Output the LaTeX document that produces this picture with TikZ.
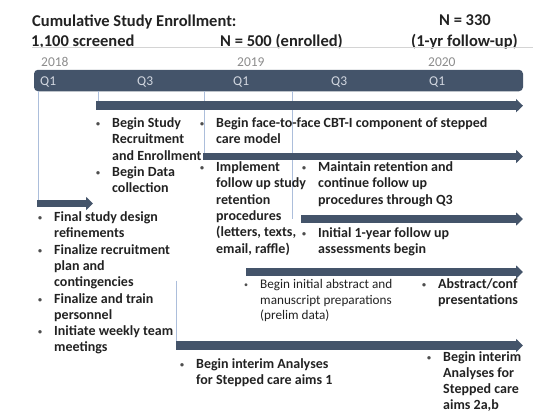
\documentclass[tikz,border=0pt]{standalone}
\usepackage{fontspec}
\usepackage{tikz}
\usetikzlibrary{arrows.meta,positioning}
\setmainfont{Carlito}

\definecolor{slate}{RGB}{68,84,106}
\definecolor{gridblue}{RGB}{172,190,219}
\definecolor{ink}{RGB}{34,34,34}
\definecolor{rulegrey}{RGB}{212,212,212}
\definecolor{yeargrey}{RGB}{140,140,140}
\definecolor{qgrey}{RGB}{210,215,224}

% bullet column + text column, first row on the baseline
\newcommand\bdot{\makebox[6pt]{\raisebox{1pt}{\color{ink!80}\fontsize{8}{8}\selectfont\textbullet}}}
\newcommand\bulletlist[1]{\begin{tabular}[t]{@{}l@{\hspace{11pt}}l@{}}#1\end{tabular}}

\begin{document}
\begin{tikzpicture}[x=1pt,y=-1pt,
    headtext/.style={font=\bfseries\fontsize{16.5}{19}\selectfont, text=ink, inner sep=0pt, anchor=base west},
    yearlabel/.style={font=\fontsize{13.5}{15}\selectfont, text=yeargrey, inner sep=0pt, anchor=base west},
    qlabel/.style={font=\fontsize{13.5}{15}\selectfont, text=qgrey, inner sep=0pt, anchor=base west},
    task/.style={anchor=base west, inner sep=0pt, text=ink, font=\bfseries\fontsize{14}{16.3}\selectfont},
    gridline/.style={gridblue, line width=0.9pt},
    phase/.style={slate, -{Triangle[length=7pt,width=13pt]}}
  ]
    \useasboundingbox (0,0) rectangle (533,413);

    % enrollment figures
    \node[headtext] (enroll)   at (32,26)  {Cumulative Study Enrollment:};
    \node[headtext] (screened) at (31,46)  {1,100 screened};
    \node[headtext] (enrolled) at (220,46) {N = 500 (enrolled)};
    \node[headtext, anchor=base] (follown)  at (465,25.5) {N = 330};
    \node[headtext, anchor=base] (followup) at (464.5,46) {(1-yr follow-up)};
    \draw[rulegrey, line width=0.8pt] (32,47.5) -- (533,47.5);

    % time axis
    \foreach \yr/\x in {2018/41,2019/237,2020/428} {\node[yearlabel] (y\yr) at (\x,66.3) {\yr};};
    \node[fill=slate, rounded corners=4pt, minimum width=489pt, minimum height=21.5pt, inner sep=0pt] (bar) at (278.5,80.5) {};
    \foreach \q/\x [count=\i] in {Q1/40,Q3/137,Q1/233,Q3/331,Q1/429} {\node[qlabel] (q\i) at (\x,85.3) {\q};};

    \foreach \n/\xs/\xe/\y in {1/96/523/105.7,2/203/523/156.5,3/37/93/203.5,4/301/523/219,5/246/523/272,6/176/523/345.5} {%
      \coordinate (p\n-s) at (\xs,\y);
      \coordinate (p\n-e) at (\xe,\y);
    };

    \foreach \n/\dx in {1/2,2/1,3/1,4/-9} {\draw[gridline] ([xshift=\dx pt]p\n-s |- bar.south) -- ([xshift=\dx pt]p\n-s);};
    \draw[gridline] ([yshift=65pt]p6-s) -- (p6-s);

    \foreach \n/\w in {1/9.5,2/7.5,3/7.5,4/8,5/8,6/9} {\draw[phase, line width=\w pt] (p\n-s) -- (p\n-e);};

    % activities
    \node[task] (recruit)  at (95,127.5)  {\bulletlist{\bdot & Begin Study\\ & Recruitment\\ & and Enrollment\\ \bdot & Begin Data\\ & collection}};
    \node[task] (cbt)      at (199,127.5) {\bulletlist{\bdot & Begin face-to-face CBT-I component of stepped\\ & care model}};
    \node[task] (retain)   at (199,171.5) {\bulletlist{\bdot & Implement\\ & follow up study\\ & retention\\ & procedures\\ & (letters, texts,\\ & email, raffle)}};
    \node[task] (maintain) at (301,171.5) {\bulletlist{\bdot & Maintain retention and\\ & continue follow up\\ & procedures through Q3}};
    \node[task] (initial)  at (301,237.5) {\bulletlist{\bdot & Initial 1-year follow up\\ & assessments begin}};
    \node[task] (design)   at (37,221.5)  {\bulletlist{\bdot & Final study design\\ & refinements\\ \bdot & Finalize recruitment\\ & plan and\\ & contingencies\\
      \bdot & Finalize and train\\ & personnel\\ \bdot & Initiate weekly team\\ & meetings}};
    \node[task, font=\fontsize{13.2}{15.6}\selectfont] (abstract) at (243,288.5) {\bulletlist{\bdot & Begin initial abstract and\\ & manuscript preparations\\ & (prelim data)}};
    \node[task] (confpres) at (421,288.5) {\bulletlist{\bdot & Abstract/conf\\ & presentations}};
    \node[task] (interim1) at (179,368.5) {\bulletlist{\bdot & Begin interim Analyses\\ & for Stepped care aims 1}};
    \node[task, font=\bfseries\fontsize{14}{16}\selectfont] (interim2) at (426,361) {\bulletlist{\bdot & Begin interim\\ & Analyses for\\ & Stepped care\\ & aims 2a,b}};
\end{tikzpicture}
\end{document}
